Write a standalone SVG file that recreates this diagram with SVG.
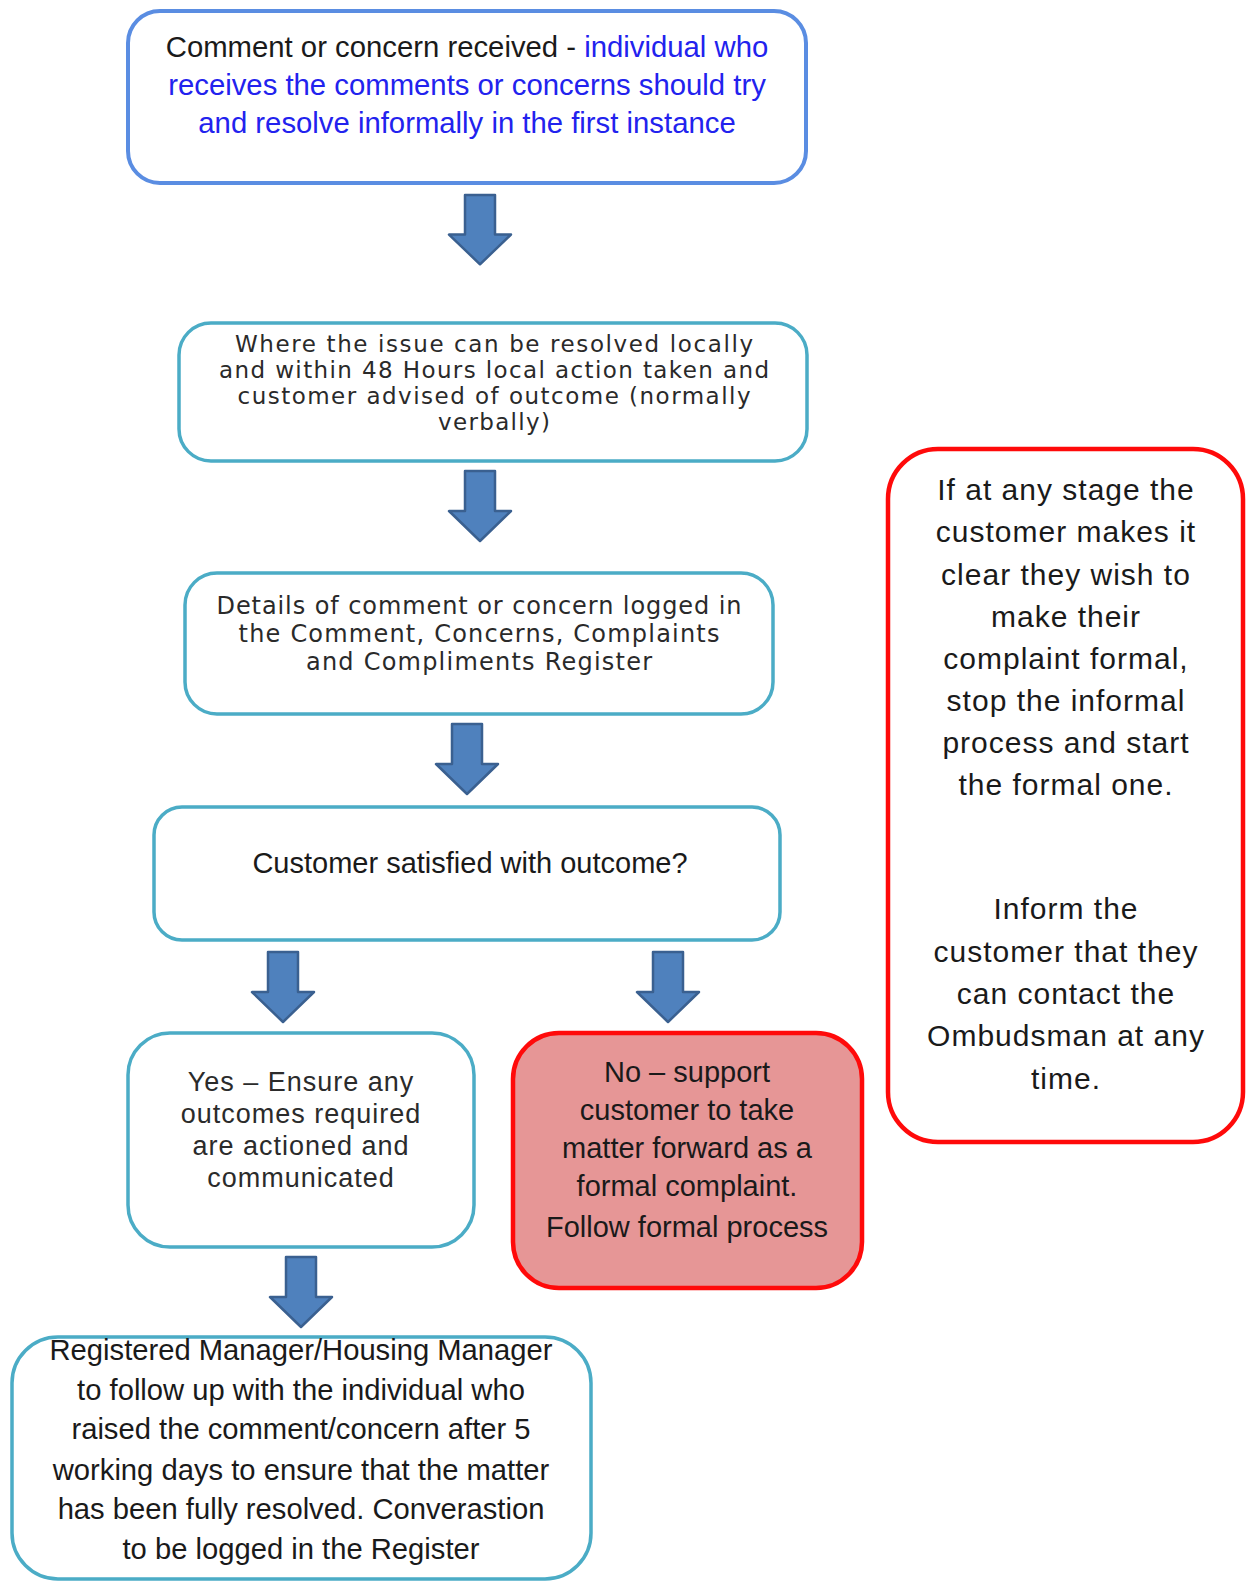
<svg xmlns="http://www.w3.org/2000/svg" xmlns:xlink="http://www.w3.org/1999/xlink" width="1250" height="1581" viewBox="0 0 1250 1581">
<style>
.box{fill:#ffffff;stroke:#4bacc6;stroke-width:3.5}
.blue{fill:#ffffff;stroke:#5a8de2;stroke-width:4}
.red{fill:#ffffff;stroke:#ff0a0a;stroke-width:4.5}
.redfill{fill:#e69696;stroke:#ff0a0a;stroke-width:4.5}
.arial{font-family:"Liberation Sans",Arial,sans-serif;fill:#1a1a1a;text-anchor:middle}
.wide{font-family:"DejaVu Sans",Verdana,sans-serif;fill:#2a2a2a;text-anchor:middle}
.arrow{fill:#4f81bd;stroke:#3a6090;stroke-width:2.5;stroke-linejoin:round}
</style>
<defs>
<path id="arr" class="arrow" d="M-15,0 L15,0 L15,40 L31,40 L0,70 L-31,40 L-15,40 Z"/>
</defs>

<g id="connectors">
<use xlink:href="#arr" href="#arr" transform="translate(480,195) scale(1,0.99)"/>
<use xlink:href="#arr" href="#arr" transform="translate(480,471)"/>
<use xlink:href="#arr" href="#arr" transform="translate(467,724)"/>
<use xlink:href="#arr" href="#arr" transform="translate(283,952)"/>
<use xlink:href="#arr" href="#arr" transform="translate(668,952)"/>
<use xlink:href="#arr" href="#arr" transform="translate(301,1257)"/>
</g>

<g id="node-received">
<rect class="blue" x="128" y="11" width="678" height="172" rx="32"/>
<text class="arial" font-size="29.3" x="467" y="57"><tspan>Comment or concern received - </tspan><tspan style="fill:#2222ee">individual who</tspan></text>
<text class="arial" font-size="29.3" x="467" y="95" style="fill:#2222ee">receives the comments or concerns should try</text>
<text class="arial" font-size="29.3" x="467" y="133" style="fill:#2222ee">and resolve informally in the first instance</text>
</g>

<g id="node-local">
<rect class="box" x="179" y="323" width="628" height="138" rx="32"/>
<text class="wide" font-size="23" x="494" y="352" textLength="518">Where the issue can be resolved locally</text>
<text class="wide" font-size="23" x="494" y="378" textLength="550">and within 48 Hours local action taken and</text>
<text class="wide" font-size="23" x="494" y="404" textLength="513">customer advised of outcome (normally</text>
<text class="wide" font-size="23" x="494" y="430" textLength="112">verbally)</text>
</g>

<g id="node-logged">
<rect class="box" x="185" y="573" width="588" height="141" rx="32"/>
<text class="wide" font-size="24" x="479" y="614" textLength="525">Details of comment or concern logged in</text>
<text class="wide" font-size="24" x="479" y="642" textLength="481">the Comment, Concerns, Complaints</text>
<text class="wide" font-size="24" x="479" y="670" textLength="346">and Compliments Register</text>
</g>

<g id="node-satisfied">
<rect class="box" x="154" y="807" width="626" height="133" rx="28"/>
<text class="arial" font-size="29" x="470" y="873">Customer satisfied with outcome?</text>
</g>

<g id="node-yes">
<rect class="box" x="128" y="1033" width="346" height="214" rx="42"/>
<text class="arial" font-size="27" x="301" y="1091" letter-spacing="1" style="fill:#2b2b2b">Yes – Ensure any</text>
<text class="arial" font-size="27" x="301" y="1123" letter-spacing="1" style="fill:#2b2b2b">outcomes required</text>
<text class="arial" font-size="27" x="301" y="1155" letter-spacing="1" style="fill:#2b2b2b">are actioned and</text>
<text class="arial" font-size="27" x="301" y="1187" letter-spacing="1" style="fill:#2b2b2b">communicated</text>
</g>

<g id="node-no">
<rect class="redfill" x="513" y="1033" width="349" height="255" rx="46"/>
<text class="arial" font-size="29" x="687" y="1082">No – support</text>
<text class="arial" font-size="29" x="687" y="1120">customer to take</text>
<text class="arial" font-size="29" x="687" y="1158">matter forward as a</text>
<text class="arial" font-size="29" x="687" y="1196">formal complaint.</text>
<text class="arial" font-size="29" x="687" y="1237">Follow formal process</text>
</g>

<g id="node-followup">
<rect class="box" x="12" y="1337" width="579" height="242" rx="46"/>
<text class="arial" font-size="29.2" x="301" y="1360">Registered Manager/Housing Manager</text>
<text class="arial" font-size="29.2" x="301" y="1400">to follow up with the individual who</text>
<text class="arial" font-size="29.2" x="301" y="1439">raised the comment/concern after 5</text>
<text class="arial" font-size="29.2" x="301" y="1480">working days to ensure that the matter</text>
<text class="arial" font-size="29.2" x="301" y="1519">has been fully resolved. Converastion</text>
<text class="arial" font-size="29.2" x="301" y="1559">to be logged in the Register</text>
</g>

<g id="node-note">
<rect class="red" x="888" y="449" width="355" height="693" rx="50"/>
<text class="arial" font-size="30" x="1066" y="500" letter-spacing="1">If at any stage the</text>
<text class="arial" font-size="30" x="1066" y="542" letter-spacing="1">customer makes it</text>
<text class="arial" font-size="30" x="1066" y="585" letter-spacing="1">clear they wish to</text>
<text class="arial" font-size="30" x="1066" y="627" letter-spacing="1">make their</text>
<text class="arial" font-size="30" x="1066" y="669" letter-spacing="1">complaint formal,</text>
<text class="arial" font-size="30" x="1066" y="711" letter-spacing="1">stop the informal</text>
<text class="arial" font-size="30" x="1066" y="753" letter-spacing="1">process and start</text>
<text class="arial" font-size="30" x="1066" y="795" letter-spacing="1">the formal one.</text>
<text class="arial" font-size="30" x="1066" y="919" letter-spacing="1">Inform the</text>
<text class="arial" font-size="30" x="1066" y="962" letter-spacing="1">customer that they</text>
<text class="arial" font-size="30" x="1066" y="1004" letter-spacing="1">can contact the</text>
<text class="arial" font-size="30" x="1066" y="1046" letter-spacing="1">Ombudsman at any</text>
<text class="arial" font-size="30" x="1066" y="1089" letter-spacing="1">time.</text>
</g>
</svg>
